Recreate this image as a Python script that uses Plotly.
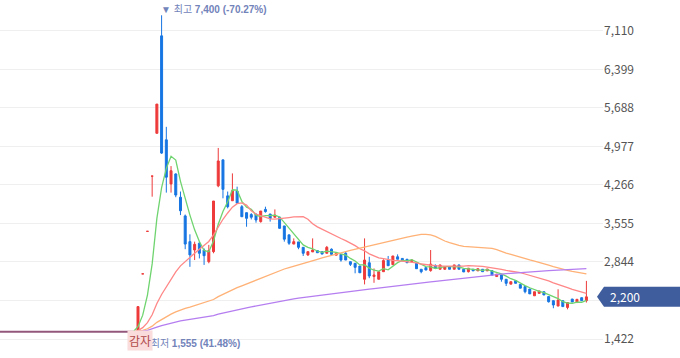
import plotly.graph_objects as go
import numpy as np

# ---- data (daily candles, oldest first) ----
opens = [1555, 2625, 3410, 4430, 5220, 7020, 5100, 4285, 4470, 4040,
         3695, 3220, 3065, 3190, 3065, 2850, 3035, 4250, 4730, 4065,
         3975, 4155, 3865, 3755, 3720, 3730, 3590, 3815, 3730, 3670,
         3670, 3510, 3345, 3175, 3215, 3115, 2975, 3030, 3055, 3035,
         3005, 3080, 2970, 2985, 3005, 2850, 2820, 2770, 2525, 2830,
         2575, 2525, 2665, 2880, 2795, 2940, 2910, 2895, 2850, 2820,
         2710, 2740, 2685, 2780, 2710, 2710, 2760, 2710, 2790, 2710,
         2665, 2710, 2680, 2710, 2680, 2685, 2575, 2615, 2525, 2435,
         2500, 2430, 2390, 2345, 2220, 2265, 2295, 2205, 2130, 2030,
         2130, 2005, 2160, 2095, 2185, 2130]
highs = [2020, 2625, 3410, 4430, 5760, 7400, 5340, 4615, 4480, 4145,
         3720, 3355, 3220, 3220, 3095, 3160, 3970, 4950, 4730, 4145,
         4480, 4235, 3895, 3755, 3745, 3730, 3785, 3865, 3730, 3815,
         3680, 3510, 3345, 3280, 3215, 3115, 3035, 3280, 3055, 3035,
         3140, 3095, 3005, 2985, 3035, 2850, 2820, 2770, 3280, 2940,
         2725, 2665, 2895, 2955, 2955, 2985, 2910, 2895, 2895, 2830,
         2710, 2740, 3065, 2800, 2790, 2760, 2760, 2790, 2790, 2710,
         2730, 2710, 2720, 2710, 2715, 2685, 2620, 2615, 2525, 2480,
         2500, 2430, 2390, 2345, 2295, 2310, 2295, 2205, 2130, 2340,
         2130, 2095, 2160, 2155, 2185, 2495]
lows = [1555, 2625, 3410, 4050, 5220, 4840, 4125, 4125, 4040, 3710,
        3080, 2755, 2880, 2910, 2790, 2820, 3005, 4225, 4020, 3835,
        3975, 3925, 3680, 3495, 3630, 3570, 3570, 3755, 3590, 3670,
        3465, 3220, 3160, 3175, 3080, 2955, 2955, 3030, 3015, 2990,
        3005, 2955, 2970, 2850, 2880, 2770, 2635, 2645, 2430, 2545,
        2460, 2525, 2665, 2775, 2795, 2895, 2865, 2830, 2850, 2720,
        2635, 2695, 2665, 2730, 2710, 2700, 2710, 2710, 2710, 2660,
        2650, 2680, 2680, 2665, 2680, 2600, 2575, 2480, 2400, 2435,
        2450, 2360, 2265, 2255, 2220, 2265, 2235, 2095, 1990, 2030,
        2020, 1970, 2105, 2095, 2130, 2095]
closes = [2020, 2625, 3410, 4430, 5760, 4855, 4410, 4530, 4080, 3790,
          3175, 2975, 3170, 3005, 2960, 3055, 3970, 4710, 4185, 3865,
          4160, 3930, 3680, 3650, 3670, 3620, 3785, 3775, 3645, 3710,
          3465, 3265, 3190, 3220, 3115, 3005, 3035, 3065, 3015, 2990,
          3115, 2985, 3005, 2880, 2880, 2800, 2745, 2645, 2880, 2585,
          2605, 2665, 2870, 2775, 2955, 2895, 2865, 2830, 2880, 2720,
          2665, 2695, 2805, 2735, 2790, 2760, 2710, 2790, 2710, 2660,
          2730, 2680, 2720, 2665, 2715, 2600, 2620, 2525, 2450, 2480,
          2450, 2360, 2295, 2255, 2295, 2310, 2235, 2110, 2050, 2140,
          2020, 2095, 2105, 2155, 2130, 2200]

halt_price = 1555          # flat (suspended / adjusted) price before re-listing
halt_days = 120
ma_windows = [5, 20, 60, 120]
ma_colors = ["#6fd46f", "#ff8787", "#ffb176", "#b57ef0"]

y_ticks = [1422, 2133, 2844, 3555, 4266, 4977, 5688, 6399, 7110]
high_text = "▼ 최고 <b>7,400 (-70.27%)</b>"
low_text = "▲ 최저 <b>1,555 (41.48%)</b>"
event_text = "감자"
last_price = 2200
high_index = 5
low_index = 0

# ---- layout geometry ----
W, H = 680, 358
PLOT_W = 603
PX_PER_DAY = 4.72
FIRST_PX = 138
Y_LO, Y_HI = 1071.1, 7682.0

n = len(closes)
idx = np.arange(n)
x_lo = -FIRST_PX / PX_PER_DAY
x_hi = (PLOT_W - FIRST_PX) / PX_PER_DAY

LABEL_FONT = "Liberation Sans, Arial, Noto Sans CJK KR"


def py_to_paper(py):
    return 1 - py / H


def px_to_paper(px):
    return px / PLOT_W


def val_to_paper(v):
    return (v - Y_LO) / (Y_HI - Y_LO)


fig = go.Figure()

# flat pre-listing line
halt_x = np.arange(-31, 0)
fig.add_trace(go.Scatter(x=halt_x, y=[halt_price] * len(halt_x), mode="lines",
                         line=dict(color="#93577c", width=2), hoverinfo="skip"))

fig.add_trace(go.Candlestick(
    x=idx, open=opens, high=highs, low=lows, close=closes,
    increasing=dict(line=dict(color="#ee3a3a", width=1), fillcolor="#ee3a3a"),
    decreasing=dict(line=dict(color="#1675e2", width=1), fillcolor="#1675e2"),
    whiskerwidth=0,
))

all_close = np.array([halt_price] * halt_days + closes, dtype=float)
ma_x = np.arange(-1, n)
for w, c in zip(ma_windows, ma_colors):
    vals = []
    for k in ma_x:
        end = halt_days + k + 1
        vals.append(all_close[end - w:end].mean())
    fig.add_trace(go.Scatter(x=ma_x, y=vals, mode="lines",
                             line=dict(color=c, width=1.3), hoverinfo="skip"))

# price tag on the right
ty = val_to_paper(last_price)
half = 10 / H
tip_x = px_to_paper(597)
body_x = px_to_paper(604)
right_x = px_to_paper(680)
path = (f"M {tip_x},{ty} L {body_x},{ty + half} L {right_x},{ty + half} "
        f"L {right_x},{ty - half} L {body_x},{ty - half} Z")
fig.add_shape(type="path", path=path, xref="paper", yref="paper",
              fillcolor="#3f5c9c", line=dict(width=0), layer="above")

annotations = [
    dict(x=high_index, y=py_to_paper(9), xref="x", yref="paper", text=high_text,
         showarrow=False, xanchor="left", yanchor="middle", xshift=-3,
         font=dict(family=LABEL_FONT, size=10, color="#7283ba")),
    dict(x=low_index, y=py_to_paper(343), xref="x", yref="paper", text=low_text,
         showarrow=False, xanchor="left", yanchor="middle", xshift=-2,
         font=dict(family=LABEL_FONT, size=10, color="#7283ba")),
    dict(x=low_index, y=py_to_paper(340), xref="x", yref="paper", text=event_text,
         showarrow=False, xanchor="center", yanchor="middle", xshift=2,
         bgcolor="#fadcdc", borderpad=1,
         font=dict(family="Noto Sans CJK KR", size=12, color="#b04a4a")),
    dict(x=px_to_paper(608), y=ty, xref="paper", yref="paper",
         text=f"{last_price:,}", showarrow=False, xanchor="left", yanchor="middle",
         font=dict(family="Noto Sans CJK KR", size=12, color="#ffffff")),
]

# the 2,133 label sits under the price tag in the reference
tick_text = ["" if v == 2133 else f"{v:,}" for v in y_ticks]

fig.update_layout(
    width=W, height=H,
    margin=dict(l=0, r=W - PLOT_W, t=0, b=0),
    paper_bgcolor="white", plot_bgcolor="white",
    showlegend=False,
    boxgap=0.4,
    annotations=annotations,
    xaxis=dict(range=[x_lo, x_hi], showgrid=False, zeroline=False,
               showticklabels=False, showline=False,
               rangeslider=dict(visible=False)),
    yaxis=dict(range=[Y_LO, Y_HI], side="right", tickvals=y_ticks,
               ticktext=tick_text,
               showgrid=True, gridcolor="#efefef", gridwidth=1,
               zeroline=False, showline=False, ticks="",
               tickfont=dict(family="Noto Sans CJK KR", size=12, color="#555555")),
)

fig.write_html("out.html", config={"displayModeBar": False},
               post_script="document.body.style.margin='0';document.body.style.overflow='hidden';")
